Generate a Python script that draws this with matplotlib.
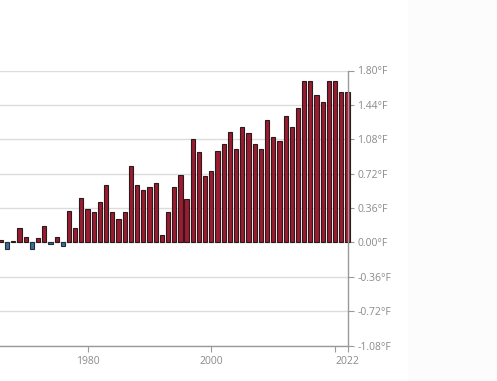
"""
Annual temperature anomaly bars (°F), right-hand axis, cropped view.
"""

import matplotlib
matplotlib.use("Agg")
import matplotlib.pyplot as plt
from matplotlib.patches import Rectangle

# ─────────────────────────────────────────────────────────────────
#  DATA
# ─────────────────────────────────────────────────────────────────
YEARS = list(range(1966, 2023))

ANOMALY_F = [
    0.02, -0.065, 0.01, 0.15, 0.06, -0.07, 0.05, 0.17, -0.02, 0.06,   # 1966-1975
    -0.04, 0.33, 0.15, 0.46, 0.35, 0.32, 0.42, 0.60, 0.32, 0.25,      # 1976-1985
    0.32, 0.80, 0.60, 0.55, 0.58, 0.62, 0.08, 0.32, 0.58, 0.71,       # 1986-1995
    0.45, 1.08, 0.95, 0.70, 0.75, 0.96, 1.03, 1.16, 0.98, 1.21,       # 1996-2005
    1.15, 1.03, 0.98, 1.28, 1.10, 1.06, 1.32, 1.21, 1.41, 1.69,       # 2006-2015
    1.69, 1.54, 1.47, 1.69, 1.69, 1.58, 1.58,                         # 2016-2022
]

Y_TICKS  = [-1.08, -0.72, -0.36, 0.0, 0.36, 0.72, 1.08, 1.44, 1.80]
X_TICKS  = [1980, 2000, 2020, 2022]
X_LABELS = ["1980", "2000", "", "2022"]

POS_COLOR  = "#9b1b30"
NEG_COLOR  = "#3e6d96"
EDGE_COLOR = "#2b1a1c"
TEXT_COLOR = "#8a8a8a"
AXIS_COLOR = "#9a9a9a"
GRID_COLOR = "#dcdcdc"

plt.rcParams["font.family"] = ["Open Sans", "DejaVu Sans"]


def main():
    W, H = 497, 381
    fig = plt.figure(figsize=(W / 100, H / 100), dpi=100)
    fig.patch.set_facecolor("white")

    # faint side panel on the right
    fig.patches.append(Rectangle((407.5 / W, 0), 1 - 407.5 / W, 1,
                                 transform=fig.transFigure,
                                 facecolor="#fcfcfc", edgecolor="none", zorder=0))

    left, right, top, bottom = 0, 347.5, 70.5, 345.5
    ax = fig.add_axes([left / W, (H - bottom) / H, (right - left) / W, (bottom - top) / H])
    ax.set_facecolor("none")

    colors = [POS_COLOR if v >= 0 else NEG_COLOR for v in ANOMALY_F]
    edges = [EDGE_COLOR if v >= 0 else "#1f2f3d" for v in ANOMALY_F]
    bars = ax.bar(YEARS, ANOMALY_F, width=0.68, color=colors,
                  edgecolor=edges, linewidth=0.8, zorder=3)
    for b in bars:
        b.set_clip_on(False)

    ax.set_xlim(1965.85, 2022.0)
    ax.set_ylim(-1.08, 1.80)

    # horizontal grid
    for y in Y_TICKS:
        ax.axhline(y, color=GRID_COLOR, lw=1.0, zorder=1)

    ax.yaxis.tick_right()
    ax.set_yticks(Y_TICKS)
    ax.set_yticklabels([f"{v:.2f}°F" for v in Y_TICKS])
    ax.set_xticks(X_TICKS)
    ax.set_xticklabels(X_LABELS)

    ax.tick_params(axis="y", which="both", direction="out", length=4.5, width=0.8,
                   color=AXIS_COLOR, labelcolor=TEXT_COLOR, labelsize=7.5, pad=2.5,
                   left=False, right=True)
    ax.tick_params(axis="x", which="both", direction="out", length=4.5, width=0.8,
                   color=AXIS_COLOR, labelcolor=TEXT_COLOR, labelsize=7.5, pad=3)

    for side in ("top", "left"):
        ax.spines[side].set_visible(False)
    for side in ("right", "bottom"):
        ax.spines[side].set_color(AXIS_COLOR)
        ax.spines[side].set_linewidth(1.0)
        ax.spines[side].set_zorder(4)

    fig.savefig("out.png", dpi=100)
    plt.close(fig)


if __name__ == "__main__":
    main()
